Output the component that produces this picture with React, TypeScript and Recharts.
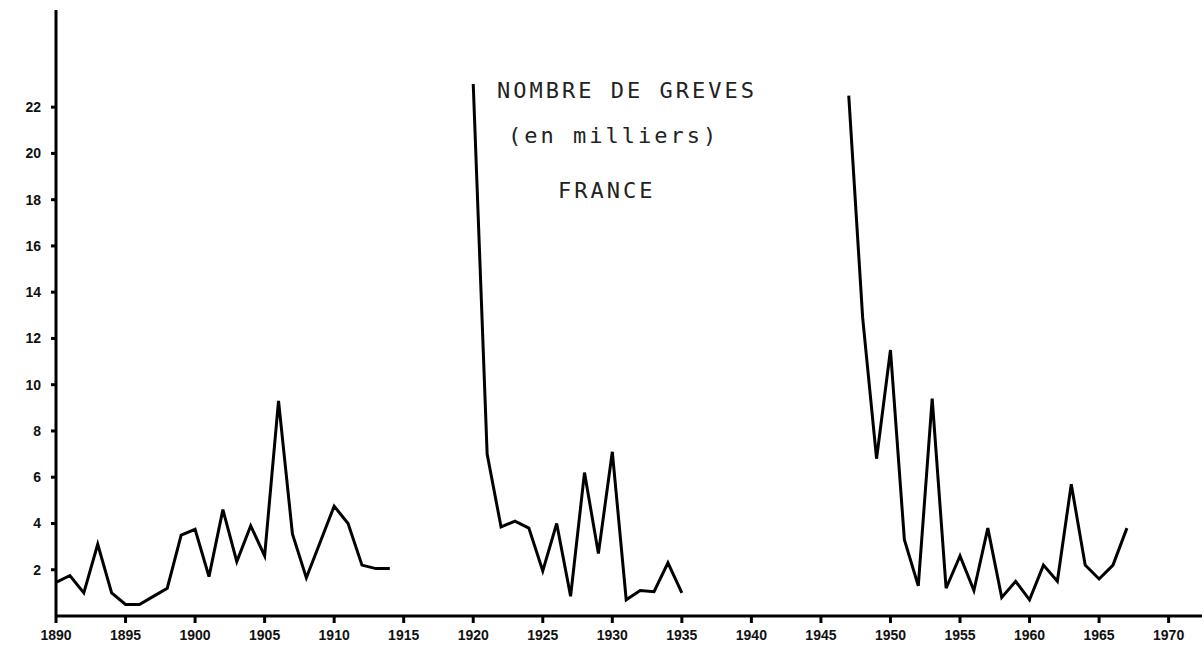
import React from 'react';
import { LineChart, Line, XAxis, YAxis } from 'recharts';

// Journées de grève (en milliers), France - three periods
const years1 = [1890, 1891, 1892, 1893, 1894, 1895, 1896, 1897, 1898, 1899, 1900, 1901, 1902, 1903, 1904, 1905, 1906, 1907, 1908, 1909, 1910, 1911, 1912, 1913, 1914];
const values1 = [1.45, 1.75, 1.0, 3.1, 1.0, 0.5, 0.5, 0.85, 1.2, 3.5, 3.75, 1.7, 4.6, 2.35, 3.9, 2.6, 9.3, 3.55, 1.65, 3.2, 4.75, 4.0, 2.2, 2.05, 2.05];

const years2 = [1920, 1921, 1922, 1923, 1924, 1925, 1926, 1927, 1928, 1929, 1930, 1931, 1932, 1933, 1934, 1935];
const values2 = [23.0, 7.0, 3.85, 4.1, 3.8, 1.95, 4.0, 0.85, 6.2, 2.7, 7.1, 0.7, 1.1, 1.05, 2.3, 1.0];

const years3 = [1947, 1948, 1949, 1950, 1951, 1952, 1953, 1954, 1955, 1956, 1957, 1958, 1959, 1960, 1961, 1962, 1963, 1964, 1965, 1966, 1967];
const values3 = [22.5, 12.9, 6.8, 11.5, 3.3, 1.3, 9.4, 1.2, 2.6, 1.1, 3.8, 0.8, 1.5, 0.7, 2.2, 1.5, 5.7, 2.2, 1.6, 2.2, 3.8];

const yTicks = [2, 4, 6, 8, 10, 12, 14, 16, 18, 20, 22];
const xTicks = [1890, 1895, 1900, 1905, 1910, 1915, 1920, 1925, 1930, 1935, 1940, 1945, 1950, 1955, 1960, 1965, 1970];

const titleLines = ['NOMBRE DE GREVES', '(en milliers)', 'FRANCE'];

// one table, with null gaps between the periods
const data: { year: number; value: number | null }[] = [];
const addPeriod = (ys: number[], vs: number[]) => {
  ys.forEach((y, i) => data.push({ year: y, value: vs[i] }));
};
addPeriod(years1, values1);
data.push({ year: 1917, value: null });
addPeriod(years2, values2);
data.push({ year: 1941, value: null });
addPeriod(years3, values3);

const tickFont = { fontFamily: 'Liberation Sans, Arial, sans-serif', fontSize: 14, fontWeight: 700, fill: '#111' };

const App: React.FC = () => {
  return (
    <div style={{ position: 'absolute', left: 0, top: 0, width: 1202, height: 665, background: '#fff' }}>
      <LineChart
        width={1202}
        height={665}
        data={data}
        margin={{ top: 10, right: 0, bottom: 19, left: 0 }}
      >
        <XAxis
          dataKey="year"
          type="number"
          domain={[1890, 1972.4]}
          ticks={xTicks}
          allowDataOverflow
          height={30}
          stroke="#000"
          strokeWidth={3}
          tickSize={7}
          tickMargin={7}
          tick={tickFont}
        />
        <YAxis
          type="number"
          domain={[0, 26.2]}
          ticks={yTicks}
          allowDataOverflow
          width={56}
          stroke="#000"
          strokeWidth={3}
          tickSize={5}
          tickMargin={10}
          tick={tickFont}
        />
        <Line
          type="linear"
          dataKey="value"
          stroke="#000"
          strokeWidth={3}
          dot={false}
          connectNulls={false}
          isAnimationActive={false}
        />
      </LineChart>
      <svg
        width={1202}
        height={665}
        style={{ position: 'absolute', left: 0, top: 0, pointerEvents: 'none' }}
      >
        <g fontFamily="DejaVu Sans Mono, monospace" fontSize={22} letterSpacing={3} fill="#222">
          <text x={497} y={98}>{titleLines[0]}</text>
          <text x={508} y={143}>{titleLines[1]}</text>
          <text x={558} y={198}>{titleLines[2]}</text>
        </g>
      </svg>
    </div>
  );
};

export default App;
